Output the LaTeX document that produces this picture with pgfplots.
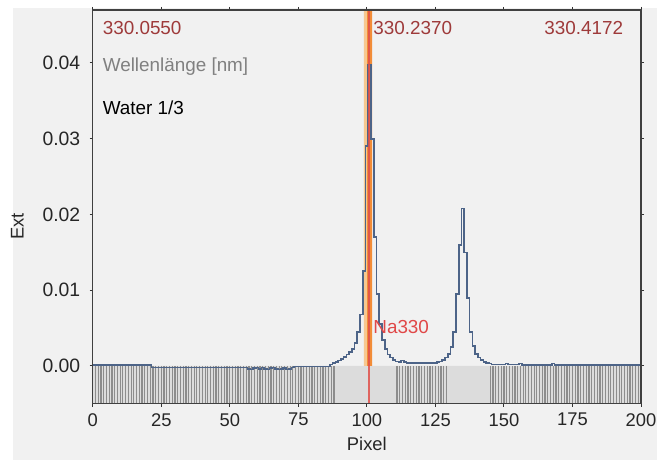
\documentclass[border=0pt]{standalone}
\usepackage{fontspec}
\setmainfont{Liberation Sans}
\usepackage{pgfplots}
\pgfplotsset{compat=1.18}
\usetikzlibrary{calc,backgrounds}

\definecolor{bggray}{HTML}{F1F1F1}
\definecolor{specblue}{HTML}{4D6488}
\definecolor{markred}{HTML}{E0504A}
\definecolor{bandorange}{HTML}{F28C38}
\definecolor{bandlight}{HTML}{F7C890}
\definecolor{labred}{HTML}{9E3A3A}
\definecolor{narred}{HTML}{E04848}
\definecolor{striplight}{HTML}{DCDCDC}
\definecolor{combgray}{HTML}{8C8C8C}

\pgfplotstableread{
x y
0 0.0001
21 0.0001
22 -0.0002
56 -0.0002
57 -0.0004
58 -0.0005
59 -0.0003
60 -0.0002
61 -0.0004
62 -0.0002
63 -0.0004
64 -0.0005
65 -0.0003
66 -0.0002
67 -0.0004
68 -0.0005
69 -0.0004
70 -0.0003
71 -0.0005
72 -0.0004
73 -0.0002
74 -0.0001
86 -0.0001
87 0.0002
88 0.0004
89 0.0005
90 0.0007
91 0.0009
92 0.0012
93 0.0015
94 0.0018
95 0.0022
96 0.0030
97 0.0045
98 0.0068
99 0.0125
100 0.0290
101 0.0398
102 0.0300
103 0.0170
104 0.0095
105 0.0055
106 0.0034
107 0.0022
108 0.0015
109 0.0011
110 0.0008
111 0.0006
112 0.0005
113 0.0007
114 0.0005
115 0.0004
125 0.0004
126 0.0005
127 0.0006
128 0.0008
129 0.0011
130 0.0016
131 0.0025
132 0.0045
133 0.0095
134 0.0160
135 0.0208
136 0.0150
137 0.0090
138 0.0045
139 0.0026
140 0.0016
141 0.0011
142 0.0008
143 0.0005
144 0.0004
145 0.0003
146 0.0002
150 0.0002
151 0.0003
152 0.0002
155 0.0002
156 0.0003
157 0.0001
167 0.0001
168 0.0003
169 0.0001
200 0.0001
}\spectrum

\begin{document}
\begin{tikzpicture}
\begin{axis}[
  name=ax,
  scale only axis,
  width=550bp, height=395bp,
  xmin=0, xmax=200, ymin=-0.005, ymax=0.047,
  xtick={0,25,...,200},
  ytick={0,0.01,0.02,0.03,0.04},
  scaled y ticks=false,
  yticklabel style={/pgf/number format/fixed, /pgf/number format/fixed zerofill, /pgf/number format/precision=2, xshift=-6bp, font=\fontsize{19.5}{21}\selectfont},
  /pgf/number format/assume math mode=true,
  tick label style={text=black!85},
  xticklabel style={yshift=-3bp, font=\fontsize{18.5}{20}\selectfont},
  tick align=outside,
  major tick length=3bp,
  tick style={black!80, line width=1bp},
  axis line style={black!75, line width=1.3bp},
  axis background/.style={fill=bggray},
  xlabel={Pixel}, ylabel={Ext},
  label style={font=\fontsize{18.5}{20}\selectfont, text=black!85},
  xlabel style={yshift=-4bp},
  ylabel style={yshift=12bp, at={(ticklabel cs:0.45)}},
  clip=true,
  axis on top,
]
% bottom strip
\addplot[draw=none, fill=striplight] coordinates {(0,-0.005) (200,-0.005) (200,0) (0,0)} \closedcycle;
\addplot[ycomb, combgray, line width=1.2bp, mark=none] coordinates {
(0,-0.006)(1,-0.006)(2,-0.006)(3,-0.006)(4,-0.006)(5,-0.006)(6,-0.006)(7,-0.006)(8,-0.006)(9,-0.006)
(10,-0.006)(11,-0.006)(12,-0.006)(13,-0.006)(14,-0.006)(15,-0.006)(16,-0.006)(17,-0.006)(18,-0.006)(19,-0.006)
(20,-0.006)(21,-0.006)(22,-0.006)(23,-0.006)(24,-0.006)(25,-0.006)(26,-0.006)(27,-0.006)(28,-0.006)(29,-0.006)
(30,-0.006)(31,-0.006)(32,-0.006)(33,-0.006)(34,-0.006)(35,-0.006)(36,-0.006)(37,-0.006)(38,-0.006)(39,-0.006)
(40,-0.006)(41,-0.006)(42,-0.006)(43,-0.006)(44,-0.006)(45,-0.006)(46,-0.006)(47,-0.006)(48,-0.006)(49,-0.006)
(50,-0.006)(51,-0.006)(52,-0.006)(53,-0.006)(54,-0.006)(55,-0.006)(56,-0.006)(57,-0.006)(58,-0.006)(59,-0.006)
(60,-0.006)(61,-0.006)(62,-0.006)(63,-0.006)(64,-0.006)(65,-0.006)(66,-0.006)(67,-0.006)(68,-0.006)(69,-0.006)
(70,-0.006)(71,-0.006)(72,-0.006)(73,-0.006)(74,-0.006)(75,-0.006)(76,-0.006)(77,-0.006)(78,-0.006)(79,-0.006)
(80,-0.006)(81,-0.006)(82,-0.006)(83,-0.006)(84,-0.006)(85,-0.006)(86,-0.006)(87,-0.006)(88,-0.006)
(111,-0.006)(112,-0.006)(113,-0.006)(114,-0.006)(115,-0.006)(116,-0.006)(117,-0.006)(118,-0.006)(119,-0.006)
(120,-0.006)(121,-0.006)(122,-0.006)(123,-0.006)(124,-0.006)(125,-0.006)(126,-0.006)(127,-0.006)(128,-0.006)(129,-0.006)
(145,-0.006)(146,-0.006)(147,-0.006)(148,-0.006)(149,-0.006)
(150,-0.006)(151,-0.006)(152,-0.006)(153,-0.006)(154,-0.006)(155,-0.006)(156,-0.006)(157,-0.006)(158,-0.006)(159,-0.006)
(160,-0.006)(161,-0.006)(162,-0.006)(163,-0.006)(164,-0.006)(165,-0.006)(166,-0.006)(167,-0.006)(168,-0.006)(169,-0.006)
(170,-0.006)(171,-0.006)(172,-0.006)(173,-0.006)(174,-0.006)(175,-0.006)(176,-0.006)(177,-0.006)(178,-0.006)(179,-0.006)
(180,-0.006)(181,-0.006)(182,-0.006)(183,-0.006)(184,-0.006)(185,-0.006)(186,-0.006)(187,-0.006)(188,-0.006)(189,-0.006)
(190,-0.006)(191,-0.006)(192,-0.006)(193,-0.006)(194,-0.006)(195,-0.006)(196,-0.006)(197,-0.006)(198,-0.006)(199,-0.006)
(200,-0.006)
};
% marker band
\addplot[draw=none, fill=bandlight] coordinates {(98.9,0) (100.1,0) (100.1,0.047) (98.9,0.047)} \closedcycle;
\addplot[draw=none, fill=bandorange] coordinates {(100.1,0) (101.9,0) (101.9,0.047) (100.1,0.047)} \closedcycle;
% spectrum
\addplot[const plot mark mid, specblue, line width=1.6bp, mark=none] table {\spectrum};
% marker line
\addplot[markred, line width=1.4bp, opacity=0.85, mark=none] coordinates {(100.7,-0.006) (100.7,0.047)};
% texts
\node[anchor=mid west, inner sep=0, text=labred, font=\fontsize{19}{21}\selectfont] at (axis cs:3.6,0.0441) {330.0550};
\node[anchor=mid west, inner sep=0, text=labred, font=\fontsize{19}{21}\selectfont] at (axis cs:102.3,0.0441) {330.2370};
\node[anchor=mid east, inner sep=0, text=labred, font=\fontsize{19}{21}\selectfont] at (axis cs:193.5,0.0441) {330.4172};
\node[anchor=mid west, inner sep=0, text=black!50, font=\fontsize{19}{21}\selectfont] at (axis cs:3.6,0.0392) {Wellenlänge [nm]};
\node[anchor=mid west, inner sep=0, text=black, font=\fontsize{19}{21}\selectfont] at (axis cs:3.6,0.0336) {Water 1/3};
\node[anchor=mid west, inner sep=0, text=narred, font=\fontsize{19}{21}\selectfont] at (axis cs:102.3,0.0046) {Na330};
\end{axis}
\pgfresetboundingbox
\begin{scope}[on background layer]
\fill[white] ($(ax.south west)+(-93bp,-56bp)$) rectangle ($(ax.north east)+(16bp,10bp)$);
\fill[bggray] ($(ax.south west)+(-80bp,-56bp)$) rectangle ($(ax.north east)+(16bp,2bp)$);
\end{scope}
\path[use as bounding box] ($(ax.south west)+(-93bp,-56bp)$) rectangle ($(ax.north east)+(16bp,10bp)$);
\end{tikzpicture}
\end{document}
